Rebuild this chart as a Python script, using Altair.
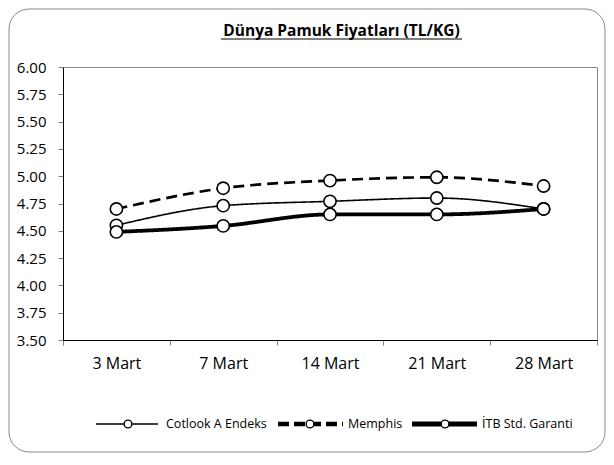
import altair as alt
import pandas as pd

dates = ["3 Mart", "7 Mart", "14 Mart", "21 Mart", "28 Mart"]
series = ["Cotlook A Endeks", "Memphis", "İTB Std. Garanti"]
cotlook = [4.55, 4.73, 4.77, 4.80, 4.70]
memphis = [4.70, 4.89, 4.96, 4.99, 4.91]
itb = [4.49, 4.545, 4.65, 4.65, 4.70]
y_ticks = [3.50, 3.75, 4.00, 4.25, 4.50, 4.75, 5.00, 5.25, 5.50, 5.75, 6.00]
title_text = "Dünya Pamuk Fiyatları (TL/KG)"

rows = []
for name, vals in zip(series, [cotlook, memphis, itb]):
    for d, v in zip(dates, vals):
        rows.append({"Tarih": d, "Seri": name, "Deger": v})
df = pd.DataFrame(rows)

W, H = 534, 273
FONT = "Open Sans"

x_enc = alt.X(
    "Tarih:N", sort=dates, bandPosition=0.5,
    scale=alt.Scale(type="band", paddingInner=0, paddingOuter=0),
    axis=alt.Axis(title=None, labelAngle=0, tickBand="extent", grid=False,
                  labelFont=FONT, labelFontSize=16, labelFontWeight="normal", labelColor="black",
                  tickColor="#808080", domainColor="black", tickSize=5,
                  labelPadding=10),
)
y_enc = alt.Y(
    "Deger:Q",
    scale=alt.Scale(domain=[3.5, 6.0], nice=False, zero=False),
    axis=alt.Axis(title=None, values=y_ticks, format=".2f", grid=False,
                  labelFont=FONT, labelFontSize=15, labelFontWeight="normal", labelColor="black",
                  tickColor="#808080", domainColor="black", tickSize=5,
                  labelPadding=12),
)

base = alt.Chart(df).encode(x=x_enc, y=y_enc)

lines = base.mark_line(interpolate="monotone", color="black").encode(
    detail="Seri:N",
    strokeWidth=alt.StrokeWidth("Seri:N", scale=alt.Scale(domain=series, range=[1.6, 3.8, 4.2]), legend=None),
    strokeDash=alt.StrokeDash("Seri:N", scale=alt.Scale(domain=series, range=[[1, 0], [11, 6], [1, 0]]), legend=None),
)
points = base.mark_point(shape="circle", filled=True, fill="white", stroke="black",
                         strokeWidth=1.6, size=150, opacity=1)

one = pd.DataFrame({"k": [0]})

frame = alt.Chart(one).mark_rect(fillOpacity=0, stroke="#8a8a8a", strokeWidth=1,
                                 cornerRadius=20).encode(
    x=alt.value(-54), x2=alt.value(542), y=alt.value(-58), y2=alt.value(385))

title = alt.Chart(one).mark_text(text=title_text, font=FONT, fontSize=15.5, fontWeight="bold",
                                 align="center", baseline="alphabetic", color="black").encode(
    x=alt.value(278.5), y=alt.value(-31))
underline = alt.Chart(one).mark_rule(color="black", strokeWidth=1.2).encode(
    x=alt.value(158), x2=alt.value(399), y=alt.value(-28))

leg_y = 357
leg_pos = [(33, 95, 65, 103), (215, 280, 247, 285), (349, 414, 382, 419)]
leg_style = [(1.6, [1, 0]), (4.5, [11, 5]), (4.8, [1, 0])]
legend_layers = []
for name, (x0, x1, xc, xt), (sw, dash) in zip(series, leg_pos, leg_style):
    ld = pd.DataFrame({"Seri": [name]})
    legend_layers.append(alt.Chart(ld).mark_rule(color="black", strokeWidth=sw, strokeDash=dash).encode(
        x=alt.value(x0), x2=alt.value(x1), y=alt.value(leg_y)))
    legend_layers.append(alt.Chart(ld).mark_point(shape="circle", filled=True, fill="white", stroke="black",
                                                  strokeWidth=1.4, size=60, opacity=1).encode(
        x=alt.value(xc), y=alt.value(leg_y)))
    legend_layers.append(alt.Chart(ld).mark_text(font=FONT, fontSize=12.5, align="left", baseline="middle",
                                                 color="black").encode(
        x=alt.value(xt), y=alt.value(leg_y), text="Seri:N"))

chart = alt.layer(frame, lines, points, title, underline, *legend_layers).properties(
    width=W, height=H,
    autosize=alt.AutoSizeParams(type="none"),
    padding={"left": 55, "top": 59, "right": 9, "bottom": 113},
    background="white",
).configure_view(stroke="#8a8a8a", strokeWidth=1)

chart.save("out.html", embed_options={"renderer": "svg", "actions": False})
